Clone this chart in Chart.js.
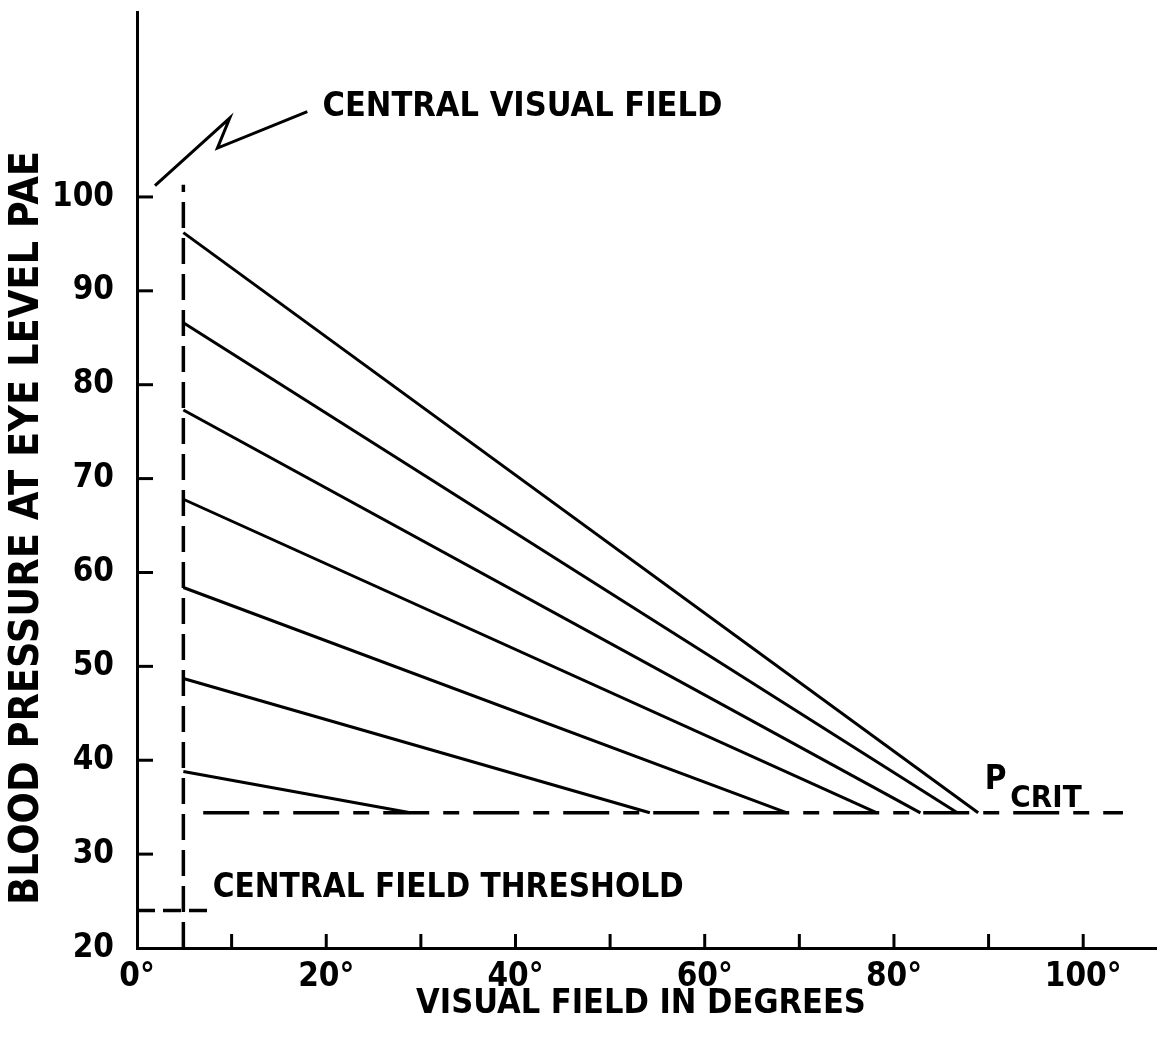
<!DOCTYPE html>
<html>
<head>
<meta charset="utf-8">
<script src="https://cdn.jsdelivr.net/npm/chart.js@4.4.1/dist/chart.umd.min.js"></script>
<style>
  html, body { margin: 0; padding: 0; background: #fff; }
  #wrap { width: 1157px; height: 1048px; position: relative; }
</style>
</head>
<body>
<div id="wrap"><canvas id="chart"></canvas></div>
<script>
// visual field (deg) vs blood pressure at eye level
const startAngle = 4.9;
const startPressures = [96.2, 86.6, 77.3, 67.8, 58.4, 48.7, 38.8];
const endAngles = [88.9, 86.7, 82.8, 78.2, 68.7, 54.2, 28.9];
const pCrit = 34.4;
const pCritRange = [7.0, 104.2];
const centralTop = 101.3;
const thresholdPressure = 24;
const thresholdRange = [0, 7.6];
const leaderX = [1.9, 9.8, 8.5, 18.0];
const leaderY = [101.2, 108.4, 105.2, 109.1];
const xLabelled = [0, 20, 40, 60, 80, 100];
const yLabelled = [20, 30, 40, 50, 60, 70, 80, 90, 100];

const xTitle = 'VISUAL FIELD IN DEGREES';
const yTitle = 'BLOOD PRESSURE AT EYE LEVEL PAE';

const notes = [
  { text: 'CENTRAL VISUAL FIELD', x: 19.6, y: 109.6, size: 34 },
  { text: 'CENTRAL FIELD THRESHOLD', x: 8.0, y: 26.3, size: 33 },
  { text: 'P', x: 89.6, y: 37.9, size: 33 },
  { text: 'CRIT', x: 92.3, y: 35.9, size: 31 }
];

const FONT = '"DejaVu Sans Condensed", "Liberation Sans Narrow", "DejaVu Sans", sans-serif';

const datasets = startPressures.map((p, i) => ({
  data: [{ x: startAngle, y: p }, { x: endAngles[i], y: pCrit }],
  borderColor: '#000', borderWidth: 3, pointRadius: 0, tension: 0
}));

datasets.push({
  data: [{ x: pCritRange[0], y: pCrit }, { x: pCritRange[1], y: pCrit }],
  borderColor: '#000', borderWidth: 3.5, pointRadius: 0, borderDash: [46, 14, 16, 14]
});
datasets.push({
  data: [{ x: startAngle, y: 20 }, { x: startAngle, y: centralTop }],
  borderColor: '#000', borderWidth: 3.5, pointRadius: 0, borderDash: [26, 10]
});
datasets.push({
  data: [{ x: thresholdRange[0], y: thresholdPressure }, { x: thresholdRange[1], y: thresholdPressure }],
  borderColor: '#000', borderWidth: 3.5, pointRadius: 0, borderDash: [18, 8]
});
datasets.push({
  data: leaderX.map((x, i) => ({ x: x, y: leaderY[i] })),
  borderColor: '#000', borderWidth: 3, pointRadius: 0, tension: 0
});

const inwardTicks = {
  id: 'inwardTicks',
  afterDraw(chart) {
    const { ctx, scales: { x, y } } = chart;
    ctx.save();
    ctx.strokeStyle = '#000';
    ctx.lineWidth = 3;
    x.ticks.forEach(t => {
      if (t.value <= 0 || t.value > 100) return;
      const px = x.getPixelForValue(t.value);
      ctx.beginPath();
      ctx.moveTo(px, y.bottom);
      ctx.lineTo(px, y.bottom - 14);
      ctx.stroke();
    });
    y.ticks.forEach(t => {
      if (t.value <= 20 || t.value > 100) return;
      const py = y.getPixelForValue(t.value);
      ctx.beginPath();
      ctx.moveTo(x.left, py);
      ctx.lineTo(x.left + 16, py);
      ctx.stroke();
    });
    ctx.fillStyle = '#000';
    ctx.textAlign = 'left';
    ctx.textBaseline = 'middle';
    notes.forEach(n => {
      ctx.font = 'bold ' + n.size + 'px ' + FONT;
      ctx.fillText(n.text, x.getPixelForValue(n.x), y.getPixelForValue(n.y));
    });
    // axis titles
    ctx.textAlign = 'center';
    ctx.font = 'bold 34px ' + FONT;
    ctx.fillText(xTitle, 641, 1004);
    ctx.translate(27, 528);
    ctx.rotate(-Math.PI / 2);
    ctx.font = 'bold 41px ' + FONT;
    ctx.fillText(yTitle, 0, 0);
    ctx.restore();
  }
};

new Chart(document.getElementById('chart'), {
  type: 'line',
  data: { datasets },
  options: {
    responsive: true,
    maintainAspectRatio: false,
    animation: false,
    layout: { padding: { top: 12, right: 0, left: 0, bottom: 0 } },
    plugins: { legend: { display: false }, tooltip: { enabled: false } },
    scales: {
      x: {
        type: 'linear', min: 0, max: 107.8,
        afterFit: s => { s.height = 100; s.paddingLeft = 0; s.paddingRight = 0; },
        border: { display: true, color: '#000', width: 3 },
        grid: { drawOnChartArea: false, drawTicks: false },
        ticks: {
          stepSize: 10, includeBounds: false, padding: 10, color: '#000',
          maxRotation: 0, autoSkip: false,
          font: { family: FONT, size: 33, weight: 'bold' },
          callback: v => xLabelled.includes(v) ? v + '°' : ''
        }
      },
      y: {
        type: 'linear', min: 20, max: 119.7,
        afterFit: s => { s.width = 137; s.paddingTop = 0; s.paddingBottom = 0; },
        border: { display: true, color: '#000', width: 3 },
        grid: { drawOnChartArea: false, drawTicks: false },
        ticks: {
          stepSize: 10, includeBounds: false, padding: 23, color: '#000',
          autoSkip: false,
          font: { family: FONT, size: 33, weight: 'bold' },
          callback: v => yLabelled.includes(v) ? String(v) : ''
        }
      }
    }
  },
  plugins: [inwardTicks]
});
</script>
</body>
</html>
